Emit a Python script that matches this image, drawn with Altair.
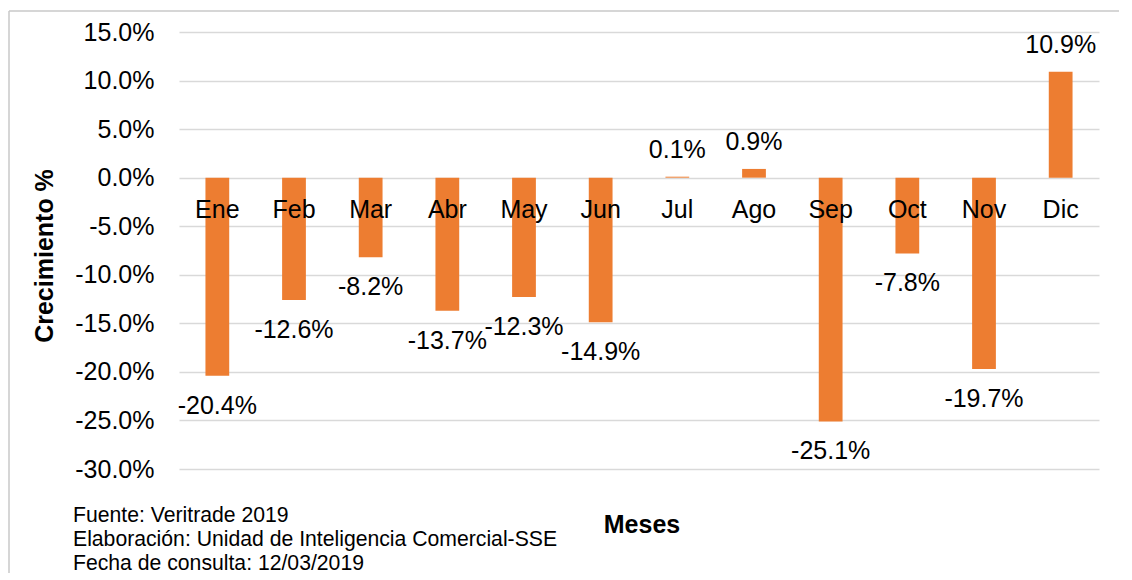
import altair as alt
import pandas as pd

months = ["Ene", "Feb", "Mar", "Abr", "May", "Jun", "Jul", "Ago", "Sep", "Oct", "Nov", "Dic"]
growth = [-20.4, -12.6, -8.2, -13.7, -12.3, -14.9, 0.1, 0.9, -25.1, -7.8, -19.7, 10.9]
y_ticks = [15, 10, 5, 0, -5, -10, -15, -20, -25, -30]
notes = ["Fuente: Veritrade 2019",
         "Elaboración: Unidad de Inteligencia Comercial-SSE",
         "Fecha de consulta: 12/03/2019"]

FONT = "Liberation Sans"
W, H = 920, 437

df = pd.DataFrame({"mes": months, "v": growth})
df["lab"] = [("-" if v < 0 else "") + f"{abs(v):.1f}%" for v in growth]

xs = alt.X("mes:N", sort=months, axis=None,
           scale=alt.Scale(paddingInner=0.69, paddingOuter=0.345))
ys = alt.Y("v:Q", scale=alt.Scale(domain=[-30, 15], nice=False, zero=False),
           axis=alt.Axis(values=y_ticks, title=None, ticks=False, domain=False,
                         labelExpr="(datum.value<0?'-':'') + format(abs(datum.value),'.1f') + '%'",
                         labelFontSize=25, labelFont=FONT, labelColor="#000000",
                         labelPadding=25, gridColor="#d9d9d9", gridWidth=1.5))

base = alt.Chart(df)
bars = base.mark_bar(color="#ED7D31").encode(x=xs, y=ys, y2=alt.datum(0))

month_lbl = base.mark_text(font=FONT, fontSize=25, color="#000000", dy=40,
                           baseline="alphabetic").encode(
    x=xs, y=alt.datum(0), text="mes:N")

neg_lbl = base.transform_filter("datum.v < 0").mark_text(
    font=FONT, fontSize=25, color="#000000", dy=38, baseline="alphabetic").encode(
    x=xs, y="v:Q", text="lab:N")
pos_lbl = base.transform_filter("datum.v >= 0").mark_text(
    font=FONT, fontSize=25, color="#000000", dy=-19, baseline="alphabetic").encode(
    x=xs, y="v:Q", text="lab:N")

one = pd.DataFrame({"a": [0]})
notes_lbl = alt.Chart(one).mark_text(
    font=FONT, fontSize=21.2, color="#000000", align="left", baseline="alphabetic",
    lineHeight=24).encode(
    x=alt.value(-106), y=alt.value(490), text=alt.value(notes))

x_title = alt.Chart(one).mark_text(
    font=FONT, fontSize=25, fontWeight="bold", color="#000000", baseline="alphabetic").encode(
    x=alt.value(463), y=alt.value(501), text=alt.value("Meses"))

y_title = alt.Chart(one).mark_text(
    font=FONT, fontSize=25, fontWeight="bold", color="#000000", angle=270,
    baseline="middle", align="center").encode(
    x=alt.value(-134), y=alt.value(224), text=alt.value("Crecimiento %"))

frame_top = alt.Chart(one).mark_rule(color="#c8c8c8", strokeWidth=1.5).encode(
    x=alt.value(-170), x2=alt.value(960), y=alt.value(-21))
frame_left = alt.Chart(one).mark_rule(color="#c8c8c8", strokeWidth=1.5).encode(
    x=alt.value(-170), y=alt.value(-21), y2=alt.value(560))

chart = alt.layer(bars, month_lbl, neg_lbl, pos_lbl, notes_lbl, x_title, y_title,
                  frame_top, frame_left).properties(
    width=W, height=H,
    background="#ffffff",
    autosize=alt.AutoSizeParams(type="none"),
    padding={"left": 171, "top": 24, "right": 20, "bottom": 104},
).configure_view(stroke=None)

chart.save("out.html", embed_options={"renderer": "svg", "actions": False})
